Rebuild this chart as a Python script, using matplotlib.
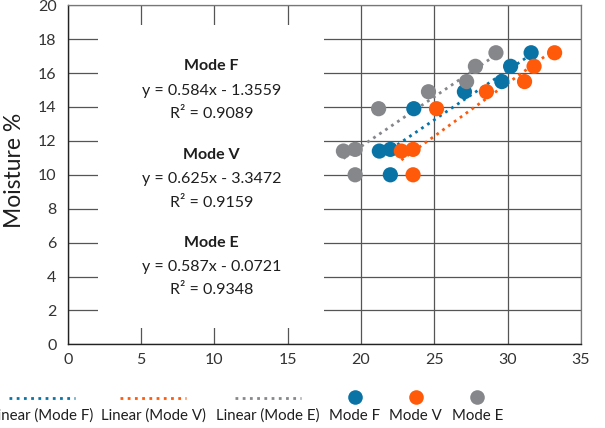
import matplotlib
matplotlib.use("Agg")
import matplotlib.pyplot as plt
from matplotlib.lines import Line2D
from matplotlib.patches import Rectangle
import numpy as np

plt.rcParams['font.family'] = ['Lato', 'DejaVu Sans']

# ---- data ----
moisture = [11.4, 11.5, 10.0, 13.9, 14.9, 15.5, 16.4, 17.2]
x_mode_f = [21.25, 22.0, 22.0, 23.6, 27.05, 29.6, 30.2, 31.6]
x_mode_v = [22.75, 23.55, 23.55, 25.15, 28.55, 31.15, 31.8, 33.2]
x_mode_e = [18.8, 19.6, 19.6, 21.2, 24.6, 27.2, 27.8, 29.2]
series_names = ["Mode F", "Mode V", "Mode E"]
slopes = [0.584, 0.625, 0.587]
intercepts = [-1.3559, -3.3472, -0.0721]
r2_values = [0.9089, 0.9159, 0.9348]
x_ticks = [0, 5, 10, 15, 20, 25, 30, 35]
y_ticks = [0, 2, 4, 6, 8, 10, 12, 14, 16, 18, 20]

colors = ["#0A73A6", "#FF5A0A", "#86878B"]
xs_all = [x_mode_f, x_mode_v, x_mode_e]
text_color = "#1E1E1E"

W, H = 605, 428
fig = plt.figure(figsize=(W / 100, H / 100), dpi=100)
ax_l, ax_r, ax_t, ax_b = 67.7, 581.0, 5.3, 344.3
ax = fig.add_axes([ax_l / W, 1 - ax_b / H, (ax_r - ax_l) / W, (ax_b - ax_t) / H])

ax.set_xlim(0, 35)
ax.set_ylim(0, 20)
ax.set_xticks(x_ticks)
ax.set_yticks(y_ticks)
ax.tick_params(length=0, labelsize=11.5, colors="#333333")
ax.tick_params(axis='y', pad=8)
ax.tick_params(axis='x', pad=6)
ax.grid(True, color="#555555", linewidth=0.9, zorder=0)
ax.set_axisbelow(True)
for s in ["top", "right"]:
    ax.spines[s].set_color("#777777")
    ax.spines[s].set_linewidth(0.9)
for s in ["left", "bottom"]:
    ax.spines[s].set_color("#222222")
    ax.spines[s].set_linewidth(1.0)
ax.set_ylabel("Moisture %", fontsize=16.5, color=text_color)
ax.yaxis.set_label_coords((25 - ax_l) / (ax_r - ax_l), (ax_b - 170) / (ax_b - ax_t))

# white text box covering grid
ax.add_patch(Rectangle((2.09 / 35, 0.94 / 20), (17.47 - 2.09) / 35, (18.82 - 0.94) / 20,
                       transform=ax.transAxes, facecolor="white", edgecolor="none", zorder=1))

dot_style = (0, (1, 1.6))
for xs, m, b, c in zip(xs_all, slopes, intercepts, colors):
    xl = np.array([min(xs), max(xs)])
    ax.plot(xl, m * xl + b, color=c, linewidth=2.0, linestyle=dot_style, zorder=2)
for xs, c in zip(xs_all, colors):
    ax.scatter(xs, moisture, s=120, color=c, edgecolors="none", zorder=3)

# annotation text
line_px = [[66, 91.0, 114.3], [155, 179, 202.7], [242.7, 266.7, 290]]
tx = (211.7 - ax_l) / (ax_r - ax_l)
for name, m, b, r2, ys in zip(series_names, slopes, intercepts, r2_values, line_px):
    sign = "-" if b < 0 else "+"
    lines = [name, f"y = {m:.3f}x {sign} {abs(b):.4f}", f"R² = {r2:.4f}"]
    for i, (t, py) in enumerate(zip(lines, ys)):
        ax.text(tx, (ax_b - py) / (ax_b - ax_t), t, transform=ax.transAxes,
                ha="center", va="center", fontsize=11.5, color=text_color,
                fontweight="bold" if i == 0 else "normal", zorder=4)

# legend (symbol above label)
leg_labels = ["Linear (Mode F)", "Linear (Mode V)", "Linear (Mode E)"] + series_names
leg_cx = [41.7, 153.0, 268.0, 354.5, 415.8, 477.4]
sym_y, txt_y = 397.5, 415.5
for i, (lab, cx) in enumerate(zip(leg_labels, leg_cx)):
    c = colors[i % 3]
    if i < 3:
        fig.add_artist(Line2D([(cx - 33) / W, (cx + 33) / W], [1 - sym_y / H] * 2,
                              color=c, linewidth=2.0, linestyle=dot_style,
                              transform=fig.transFigure))
    else:
        fig.add_artist(Line2D([cx / W], [1 - (sym_y - 1) / H], marker="o", markersize=10.5,
                              color=c, markeredgewidth=0, linestyle="none",
                              transform=fig.transFigure))
    fig.text(cx / W, 1 - txt_y / H, lab, ha="center", va="center", fontsize=10.8,
             color=text_color)

fig.savefig("out.png", dpi=100)
